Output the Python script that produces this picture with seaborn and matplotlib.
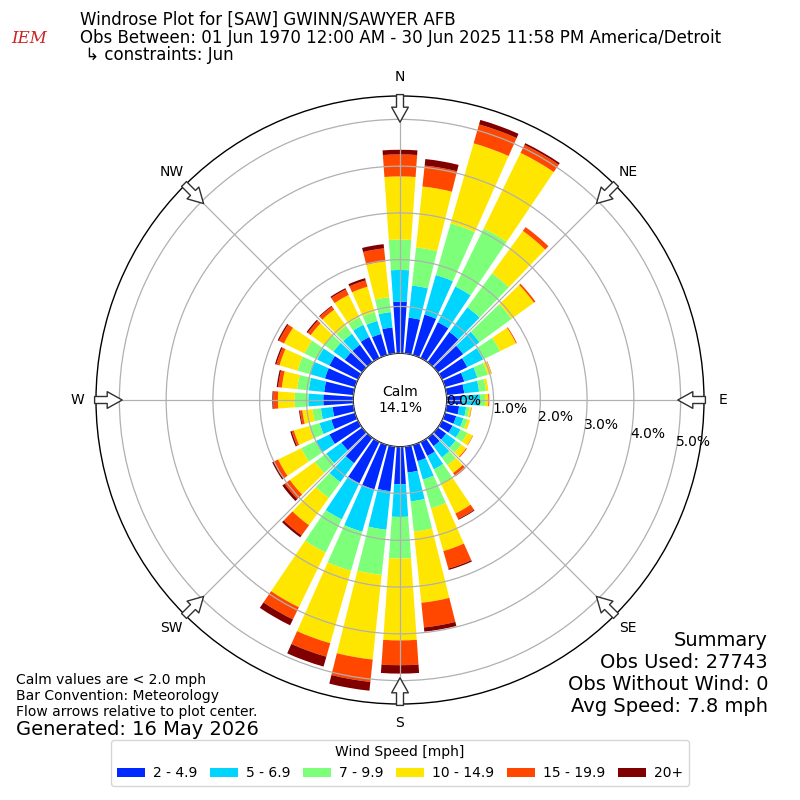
import numpy as np
import matplotlib
matplotlib.use("Agg")
import matplotlib.pyplot as plt
from matplotlib.patches import Patch
import seaborn as sns

# ---------------- data (percent of observations) ----------------
directions = list(range(0, 360, 10))
speed_bins = ["2 - 4.9", "5 - 6.9", "7 - 9.9", "10 - 14.9", "15 - 19.9", "20+"]
compass_labels = ["N", "NE", "E", "SE", "S", "SW", "W", "NW"]
radial_ticks = [0, 1, 2, 3, 4, 5]
calm_pct = 14.1

spd_2_5 = [1.10, 0.77, 0.90, 0.85, 0.80, 0.67, 0.60, 0.43, 0.38, 0.32, 0.27, 0.25,
           0.25, 0.22, 0.22, 0.33, 0.36, 0.56, 0.80, 0.96, 0.99, 0.98, 0.67, 0.55,
           0.68, 0.53, 0.45, 0.64, 0.63, 0.67, 0.68, 0.46, 0.46, 0.50, 0.47, 0.56]
spd_5_7 = [0.68, 0.69, 0.88, 0.85, 0.65, 0.43, 0.38, 0.29, 0.32, 0.39, 0.15, 0.16,
           0.19, 0.25, 0.30, 0.32, 0.41, 0.62, 0.70, 0.83, 0.94, 0.86, 0.50, 0.40,
           0.33, 0.26, 0.25, 0.32, 0.33, 0.34, 0.29, 0.30, 0.29, 0.29, 0.29, 0.33]
spd_7_10 = [0.65, 0.82, 1.15, 1.38, 0.90, 0.85, 0.40, 0.23, 0.15, 0.11, 0.07, 0.09,
            0.16, 0.15, 0.20, 0.35, 0.64, 0.65, 0.89, 0.97, 0.87, 0.79, 0.42, 0.30,
            0.34, 0.23, 0.18, 0.29, 0.25, 0.27, 0.30, 0.24, 0.21, 0.18, 0.20, 0.32]
spd_10_15 = [1.35, 1.31, 1.78, 1.80, 1.12, 0.59, 0.38, 0.08, 0.05, 0.07, 0.04, 0.06,
             0.13, 0.13, 0.21, 0.70, 0.95, 1.53, 1.75, 1.82, 1.61, 1.30, 0.72, 0.66,
             0.55, 0.34, 0.22, 0.36, 0.33, 0.40, 0.49, 0.36, 0.43, 0.53, 0.56, 0.77]
spd_15_20 = [0.47, 0.45, 0.42, 0.19, 0.10, 0.04, 0.02, 0.01, 0.00, 0.02, 0.01, 0.00,
             0.01, 0.02, 0.09, 0.13, 0.39, 0.53, 0.53, 0.48, 0.30, 0.29, 0.27, 0.14,
             0.10, 0.05, 0.05, 0.10, 0.08, 0.07, 0.12, 0.08, 0.08, 0.13, 0.14, 0.28]
spd_20p = [0.10, 0.14, 0.10, 0.04, 0.00, 0.00, 0.00, 0.00, 0.00, 0.00, 0.00, 0.00,
           0.00, 0.00, 0.00, 0.02, 0.03, 0.09, 0.18, 0.19, 0.22, 0.14, 0.05, 0.06,
           0.04, 0.03, 0.02, 0.02, 0.03, 0.03, 0.03, 0.03, 0.02, 0.03, 0.05, 0.09]

series = [spd_2_5, spd_5_7, spd_7_10, spd_10_15, spd_15_20, spd_20p]

# ---------------- style ----------------
sns.set_style("white")
plt.rcParams["font.family"] = ["DejaVu Sans"]
plt.rcParams["text.color"] = "black"
plt.rcParams["xtick.color"] = "black"
plt.rcParams["ytick.color"] = "black"
plt.rcParams["xtick.labelcolor"] = "black"
plt.rcParams["ytick.labelcolor"] = "black"
plt.rcParams["legend.labelcolor"] = "black"
colors = sns.color_palette([plt.get_cmap("jet")(v) for v in np.arange(1, 7) / 6.0])

fig = plt.figure(figsize=(8, 8), dpi=100)
ax = fig.add_axes([0.12, 0.12, 0.76, 0.76], projection="polar")
ax.set_theta_zero_location("N")
ax.set_theta_direction(-1)

theta = np.deg2rad(directions)
width = np.deg2rad(8)
bottom = np.zeros(len(directions))
for vals, col, lab in zip(series, colors, speed_bins):
    vals = np.asarray(vals)
    ax.bar(theta, vals, width=width, bottom=bottom, color=col,
           edgecolor="none", linewidth=0, label=lab, zorder=1)
    bottom = bottom + vals

rmax = 5.5
ax.set_ylim(0, rmax)
ax.set_rorigin(-1.0)
ax.set_yticks(radial_ticks)
ax.set_yticklabels([f"{v:.1f}%" for v in radial_ticks], fontsize=10, color="black")
ax.set_rlabel_position(100)
ax.set_thetagrids(np.arange(0, 360, 45), compass_labels, fontsize=10, color="black")
ax.tick_params(axis="x", pad=3)
ax.grid(True, color="#b0b0b0", linewidth=0.9)
ax.set_axisbelow(False)
for name in ("polar", "inner"):
    if name in ax.spines:
        ax.spines[name].set_color("black")
        ax.spines[name].set_linewidth(1.0)

ax.text(0.5, 0.5, f"Calm\n{calm_pct:.1f}%", transform=ax.transAxes,
        ha="center", va="center", fontsize=10, color="black", zorder=6)

# flow arrows at the compass points
for ang in np.arange(0, 360, 45):
    ax.annotate("", xy=(np.deg2rad(ang), rmax - 0.56),
                xytext=(np.deg2rad(ang), rmax + 0.03),
                arrowprops=dict(arrowstyle="simple,head_length=0.9,head_width=1.0,tail_width=0.42",
                                fc="white", ec="#303030", lw=1.0,
                                shrinkA=0, shrinkB=0, mutation_scale=12),
                annotation_clip=False, zorder=7)

# ---------------- texts ----------------
fig.text(0.1, 0.975, "Windrose Plot for [SAW] GWINN/SAWYER AFB", fontsize=12, va="center")
fig.text(0.1, 0.9525, "Obs Between: 01 Jun 1970 12:00 AM - 30 Jun 2025 11:58 PM America/Detroit",
         fontsize=12, va="center")
fig.text(0.1, 0.931, " \u21b3 constraints: Jun", fontsize=12, va="center")
fig.text(0.036, 0.952, "IEM", color="#cc2222", fontsize=12, fontstyle="italic",
         family="DejaVu Serif", ha="center", va="center")

fig.text(0.02, 0.150, "Calm values are < 2.0 mph", fontsize=10, va="center")
fig.text(0.02, 0.130, "Bar Convention: Meteorology", fontsize=10, va="center")
fig.text(0.02, 0.110, "Flow arrows relative to plot center.", fontsize=10, va="center")
fig.text(0.02, 0.088, "Generated: 16 May 2026", fontsize=14, va="center")

summary = ["Summary", "Obs Used: 27743", "Obs Without Wind: 0", "Avg Speed: 7.8 mph"]
for i, line in enumerate(summary):
    fig.text(0.96, 0.200 - i * 0.0275, line, fontsize=14, ha="right", va="center")

handles = [Patch(facecolor=c, edgecolor="none") for c in colors]
leg = fig.legend(handles, speed_bins, loc="lower center", bbox_to_anchor=(0.5, 0.009),
                 ncol=6, title="Wind Speed [mph]", fontsize=10, title_fontsize=10,
                 handlelength=2.0, handleheight=0.7, handletextpad=0.6,
                 columnspacing=0.9, frameon=True)
leg.get_title().set_color("black")

fig.savefig("out.png", dpi=100)
